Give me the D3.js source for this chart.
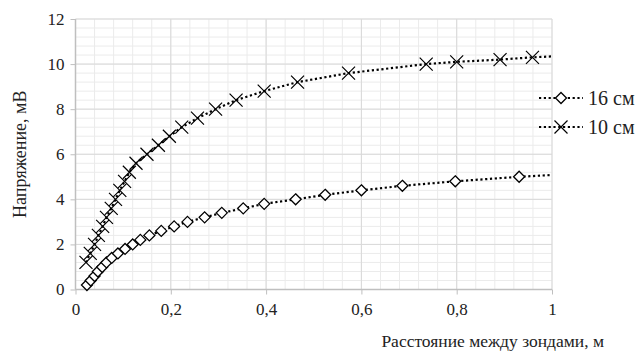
<!DOCTYPE html>
<html><head><meta charset="utf-8">
<script src="https://cdn.jsdelivr.net/npm/d3@7"></script>
<style>body{margin:0;background:#fff}svg{display:block}</style>
</head><body><div id="chart"></div>
<script>
// Data
const seriesNames = ["16 см", "10 см"];
const x16 = [0.024,0.032,0.040,0.047,0.056,0.065,0.076,0.089,0.104,0.120,0.136,0.155,0.180,0.207,0.235,0.271,0.307,0.352,0.396,0.462,0.524,0.600,0.686,0.797,0.931];
const y16 = [0.2,0.4,0.6,0.8,1.0,1.2,1.4,1.6,1.8,2.0,2.2,2.4,2.6,2.8,3.0,3.2,3.4,3.6,3.8,4.0,4.2,4.4,4.6,4.8,5.0];
const x10 = [0.022,0.031,0.040,0.048,0.057,0.065,0.075,0.084,0.093,0.103,0.113,0.127,0.150,0.174,0.197,0.223,0.256,0.294,0.337,0.396,0.466,0.573,0.736,0.800,0.891,0.959];
const y10 = [1.2,1.6,2.0,2.4,2.8,3.2,3.6,4.0,4.4,4.8,5.2,5.6,6.0,6.4,6.8,7.2,7.6,8.0,8.4,8.8,9.2,9.6,10.0,10.1,10.2,10.3];
// dotted line continues to the right edge of the plot
const lineEndX = [1, 1];
const lineEndY = [5.08, 10.34];
const xTicks = [0,0.2,0.4,0.6,0.8,1];
const yTicks = [0,2,4,6,8,10,12];
const xTitle = "Расстояние между зондами, м";
const yTitle = "Напряжение, мВ";

const FONT = "'Liberation Serif', 'Times New Roman', Tinos, 'DejaVu Serif', serif";
const W=644,H=356;
const svg=d3.select("#chart").append("svg").attr("width",W).attr("height",H)
  .style("font-family",FONT);
const x=d3.scaleLinear().domain([0,1]).range([75.5,552]);
const y=d3.scaleLinear().domain([0,12]).range([289.5,19]);

// minor grid
const xMinor=d3.range(0,1.0001,0.04), yMinor=d3.range(0,12.0001,0.4);
const g=svg.append("g");
g.selectAll(".mx").data(xMinor).join("line").attr("x1",d=>x(d)).attr("x2",d=>x(d)).attr("y1",y(0)).attr("y2",y(12)).attr("stroke","#ebebeb").attr("stroke-width",1);
g.selectAll(".my").data(yMinor).join("line").attr("y1",d=>y(d)).attr("y2",d=>y(d)).attr("x1",x(0)).attr("x2",x(1)).attr("stroke","#ebebeb").attr("stroke-width",1);
// major grid
g.selectAll(".gx").data(xTicks).join("line").attr("x1",d=>x(d)).attr("x2",d=>x(d)).attr("y1",y(0)).attr("y2",y(12)).attr("stroke","#d9d9d9").attr("stroke-width",1);
g.selectAll(".gy").data(yTicks).join("line").attr("y1",d=>y(d)).attr("y2",d=>y(d)).attr("x1",x(0)).attr("x2",x(1)).attr("stroke","#d9d9d9").attr("stroke-width",1);

// axes
const xAxis=svg.append("g").attr("transform",`translate(0,${y(0)})`)
  .call(d3.axisBottom(x).tickValues(xTicks).tickSize(5).tickPadding(8).tickFormat(d=>String(d).replace(".",",")));
const yAxis=svg.append("g").attr("transform",`translate(${x(0)},0)`)
  .call(d3.axisLeft(y).tickValues(yTicks).tickSize(5).tickPadding(6));
[xAxis,yAxis].forEach(a=>{
  a.attr("font-family",FONT).attr("font-size",17);
  a.select(".domain").attr("stroke","#bfbfbf").attr("stroke-width",1.5);
  a.selectAll(".tick line").attr("stroke","#bfbfbf").attr("stroke-width",1);
  a.selectAll("text").style("font-family",FONT).attr("font-size",17).attr("fill","#222");
});
xAxis.select(".domain").attr("d",`M${x(0)},0H${x(1)}`);
yAxis.select(".domain").attr("d",`M0,${y(0)}V${y(12)}`);

svg.append("text").attr("x",604).attr("y",347).attr("text-anchor","end").attr("font-size",17.5).style("font-family",FONT).attr("fill","#222").text(xTitle);
svg.append("text").attr("transform",`translate(26,${y(6)}) rotate(-90)`).attr("text-anchor","middle").attr("font-size",18).style("font-family",FONT).attr("fill","#222").text(yTitle);

const line=d3.line().x(d=>x(d[0])).y(d=>y(d[1]));
const s16=x16.map((v,i)=>[v,y16[i]]), s10=x10.map((v,i)=>[v,y10[i]]);
const dash="2.2 2.6";
[[s16,0],[s10,1]].forEach(([s,i])=>{
  svg.append("path").datum(s.concat([[lineEndX[i],lineEndY[i]]])).attr("d",line)
    .attr("fill","none").attr("stroke","#000").attr("stroke-width",2.2).attr("stroke-dasharray",dash);
});
const diamond=(sel)=>sel.append("path").attr("d","M0,-5.5L5.5,0L0,5.5L-5.5,0Z").attr("fill","#fff").attr("stroke","#000").attr("stroke-width",1.3);
const cross=(sel)=>sel.append("path").attr("d","M-6.5,-6.5L6.5,6.5M-6.5,6.5L6.5,-6.5").attr("fill","none").attr("stroke","#000").attr("stroke-width",1.2);
svg.append("g").selectAll("g").data(s16).join("g").attr("transform",d=>`translate(${x(d[0])},${y(d[1])})`).call(diamond);
svg.append("g").selectAll("g").data(s10).join("g").attr("transform",d=>`translate(${x(d[0])},${y(d[1])})`).call(cross);

// legend
const leg=svg.append("g");
[[98,diamond,seriesNames[0]],[127,cross,seriesNames[1]]].forEach(([ly,m,name])=>{
  leg.append("line").attr("x1",539).attr("x2",583).attr("y1",ly).attr("y2",ly).attr("stroke","#000").attr("stroke-width",2.2).attr("stroke-dasharray",dash);
  leg.append("g").attr("transform",`translate(561,${ly})`).call(m);
  leg.append("text").attr("x",588).attr("y",ly+6.5).attr("font-size",20).style("font-family",FONT).attr("fill","#222").text(name);
});
</script></body></html>
